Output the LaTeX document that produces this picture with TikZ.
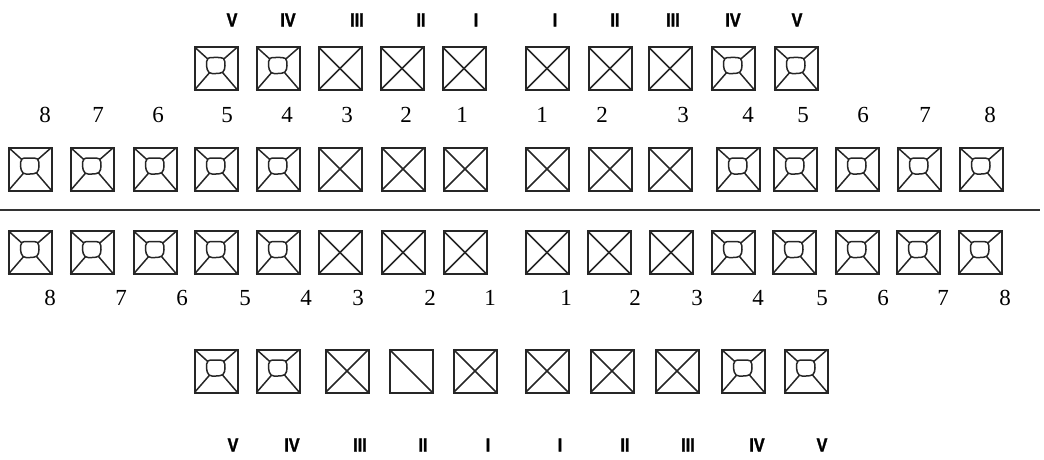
\documentclass[tikz,border=0pt]{standalone}
\usepackage{fontspec}
\setmainfont{Liberation Serif}
\newfontfamily\romfont[BoldFeatures={FakeBold=1.6, FakeStretch=0.85}]{Liberation Sans}

\tikzset{
  toothbox/.style={line width=2pt, black!85},
  toothline/.style={line width=1.5pt, black!85},
  numlab/.style={font=\fontsize{23}{23}\selectfont, inner sep=0pt},
  romlab/.style={font=\romfont\bfseries\fontsize{19}{19}\selectfont, inner sep=0pt},
  molar/.pic={
    \draw[toothbox] (-21.5,-21.5) rectangle (21.5,21.5);
    \draw[toothline] plot[smooth cycle, tension=.6] coordinates {(0,-11) (7.5,-10) (9,-3) (7,3.5) (0,5) (-7,4) (-9.5,-3) (-8,-10)};
    \draw[toothline] (-21.5,-21.5) -- (-8.2,-9.5);
    \draw[toothline] (21.5,-21.5) -- (7.8,-9.5);
    \draw[toothline] (21.5,21.5) -- (6.5,4);
    \draw[toothline] (-21.5,21.5) -- (-6.5,4.2);
  },
  cross/.pic={
    \draw[toothbox] (-21.5,-21.5) rectangle (21.5,21.5);
    \draw[toothline] (-21.5,-21.5) -- (21.5,21.5);
    \draw[toothline] (21.5,-21.5) -- (-21.5,21.5);
  },
  halfcross/.pic={
    \draw[toothbox] (-21.5,-21.5) rectangle (21.5,21.5);
    \draw[toothline] (-21.5,-21.5) -- (21.5,21.5);
  }
}

\begin{document}
\begin{tikzpicture}[x=1pt,y=-1pt]
\useasboundingbox (0,0) rectangle (1044,460);

% upper milk teeth
\foreach \x/\r in {232/V, 288/IV, 357/III, 421/II, 476/I}
  \node[romlab] (ulr\r) at (\x,20) {\r};
\foreach \x/\r in {555/I, 615/II, 673/III, 733/IV, 797/V}
  \node[romlab] (urr\r) at (\x,20) {\r};
\foreach \x in {216, 278, 733, 796}
  \pic (ulm\x) at (\x,68.5) {molar};
\foreach \x in {340, 402, 464, 547, 610, 670}
  \pic (ulc\x) at (\x,68.5) {cross};

% upper permanent teeth
\foreach \x/\n in {45/8, 98/7, 158/6, 227/5, 287/4, 347/3, 406/2, 462/1}
  \node[numlab] (uln\n) at (\x,115) {\n};
\foreach \x/\n in {542/1, 602/2, 683/3, 748/4, 803/5, 863/6, 925/7, 990/8}
  \node[numlab] (urn\n) at (\x,115) {\n};
\foreach \x in {30, 92, 155, 216, 278, 738, 795, 857, 919, 981}
  \pic (upm\x) at (\x,169) {molar};
\foreach \x in {340, 403, 465, 547, 610, 670}
  \pic (upc\x) at (\x,169) {cross};

% midline
\coordinate (midL) at (0,210);
\coordinate (midR) at (1040,210);
\draw[line width=1.8pt, black!80] (midL) -- (midR);

% lower permanent teeth
\foreach \x in {30, 92, 155, 216, 278, 733, 794, 857, 918, 980}
  \pic (lpm\x) at (\x,252.5) {molar};
\foreach \x in {340, 403, 465, 547, 609, 671}
  \pic (lpc\x) at (\x,252.5) {cross};
\foreach \x/\n in {50/8, 121/7, 182/6, 245/5, 306/4, 358/3, 430/2, 490/1}
  \node[numlab] (lln\n) at (\x,298) {\n};
\foreach \x/\n in {566/1, 635/2, 697/3, 758/4, 822/5, 883/6, 943/7, 1005/8}
  \node[numlab] (lrn\n) at (\x,298) {\n};

% lower milk teeth
\foreach \x in {216, 278, 743, 806}
  \pic (lmm\x) at (\x,371) {molar};
\foreach \x in {347, 475, 547, 612, 677}
  \pic (lmc\x) at (\x,371) {cross};
\pic (lmh411) at (411,371) {halfcross};
\foreach \x/\r in {233/V, 292/IV, 360/III, 423/II, 488/I}
  \node[romlab] (llr\r) at (\x,445) {\r};
\foreach \x/\r in {560/I, 625/II, 688/III, 757/IV, 822/V}
  \node[romlab] (lrr\r) at (\x,445) {\r};
\end{tikzpicture}
\end{document}
